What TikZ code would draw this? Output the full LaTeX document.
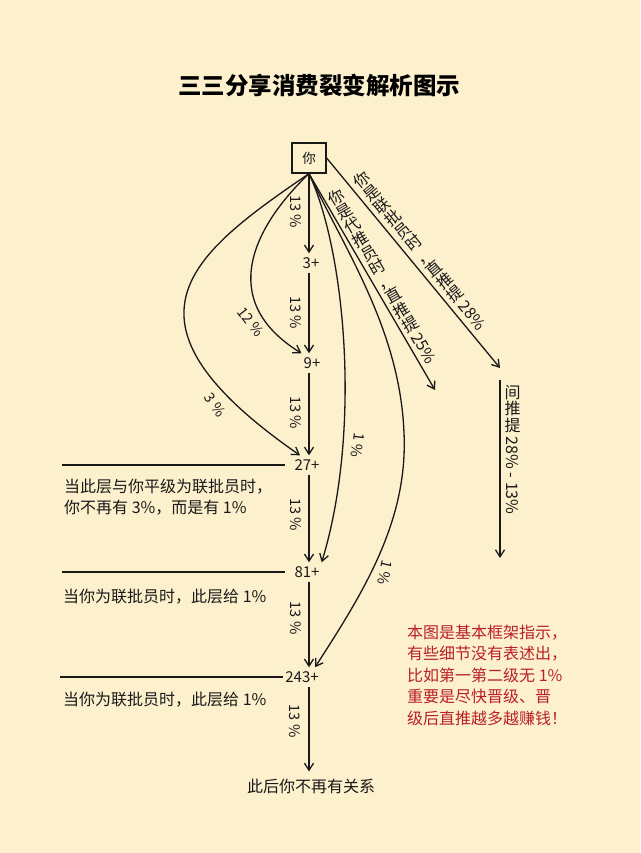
\documentclass[tikz,border=0pt]{standalone}
\usepackage{fontspec}
\usepackage{graphicx}
\setmainfont{Noto Sans CJK SC}
\usetikzlibrary{arrows.meta}
\definecolor{bgc}{RGB}{253,240,205}
\definecolor{ink}{RGB}{25,25,25}
\definecolor{redtxt}{RGB}{185,32,38}
\newcommand\vchars[1]{\vcloop#1\relax}
\def\vcloop#1{\ifx\relax#1\else\makebox[1.02em][c]{\rotatebox[origin=c]{90}{\rule[-0.12em]{0pt}{1em}\makebox[1em][c]{#1}}}\expandafter\vcloop\fi}
\begin{document}
\begin{tikzpicture}[x=1pt,y=-1pt,
  arr/.style={draw=ink, line width=1.3pt, -{Straight Barb[length=7pt,width=9pt]}},
  rule/.style={draw=ink, line width=1.3pt},
  num/.style={font=\fontsize{15}{18}\selectfont, text=ink, inner xsep=2pt, inner ysep=4pt},
  pct/.style={font=\fontsize{14.5}{16}\selectfont, text=ink, inner sep=1pt},
  note/.style={font=\fontsize{16}{21}\selectfont, text=ink, align=left, anchor=west, inner sep=0pt},
  vlab/.style={font=\fontsize{16}{18}\selectfont, text=ink, inner sep=2pt}]
\fill[bgc] (0,0) rectangle (640,853);
\useasboundingbox (0,0) rectangle (640,853);

% title
\node[font=\fontsize{23.5}{28}\selectfont\bfseries, text=black] (title) at (319,85) {三三分享消费裂变解析图示};

% top box
\node[draw=ink, line width=1.3pt, minimum width=34pt, minimum height=30pt, inner sep=0pt,
      font=\fontsize{13.5}{15}\selectfont, text=ink] (you) at (309,158) {你};

% chain nodes
\node[num] (n3) at (311,263) {3+};
\node[num] (n9) at (312,363) {9+};
\node[num] (n27) at (307,465) {27+};
\node[num] (n81) at (307,572) {81+};
\node[num] (n243) at (302,677) {243+};
\node[font=\fontsize{16}{18}\selectfont, text=ink, inner sep=0pt] (fin) at (311,786) {此后你不再有关系};

% vertical chain arrows
\draw[arr] (you.south) -- (you.south |- n3.north);
\draw[arr] (you.south |- n3.south) -- (you.south |- n9.north);
\draw[arr] (you.south |- n9.south) -- (you.south |- n27.north);
\draw[arr] (you.south |- n27.south) -- (you.south |- n81.north);
\draw[arr] (you.south |- n81.south) -- (you.south |- n243.north);
\draw[arr, shorten >=7pt] (you.south |- n243.south) -- (you.south |- fin.north);

\node[pct, rotate=-90] (p1) at (296,212) {13 \%};
\node[pct, rotate=-90] (p2) at (296,313) {13 \%};
\node[pct, rotate=-90] (p3) at (296,413) {13 \%};
\node[pct, rotate=-90] (p4) at (296,515) {13 \%};
\node[pct, rotate=-90] (p5) at (296,618) {13 \%};
\node[pct, rotate=-90] (p6) at (295,721) {13 \%};

% left curves
\draw[arr] (you.south) .. controls (190,255) and (105,320) .. ([xshift=-7pt]n27.north);
\draw[arr] (you.south) .. controls (255,225) and (215,300) .. (n9.north west);
\node[pct, rotate=-52] (p12) at (251,322) {12 \%};
\node[pct, rotate=-55] (p3b) at (215,405) {3 \%};

% right curves
\draw[arr] (you.south) .. controls (345,250) and (362,430) .. (n81.north east);
\draw[arr] (you.south) .. controls (345,250) and (400,330) .. (404,433)
                     .. controls (408,520) and (365,590) .. ([xshift=13pt]n243.north);
\node[pct, rotate=-97] (q1) at (358,445) {1 \%};
\node[pct, rotate=-103] (q2) at (385,573) {1 \%};

% straight arrows with vertical text
\coordinate (c25) at (435,390);
\coordinate (c28) at (500,368);
\draw[arr] (you.south) -- (c25)
  node[vlab, pos=0.5, sloped, above=1pt] (l25) {\vchars{你是代推员时，直推提} 25\%};
\draw[arr] (you.east) -- (c28)
  node[vlab, pos=0.48, sloped, above=2pt] (l28) {\vchars{你是联批员时，直推提} 28\%};

\coordinate (j1) at (500,380);
\coordinate (j2) at (500,558);
\draw[arr] (j1) -- (j2)
  node[vlab, pos=0.39, sloped, above=2pt] (ljt) {\vchars{间推提} 28\% - 13\%};

% horizontal rules
\coordinate (r27) at (62,465);
\coordinate (r81) at (62,572);
\coordinate (r243) at (60,677);
\draw[rule, shorten >=7pt] (r27) -- (n27.west);
\draw[rule, shorten >=7pt] (r81) -- (n81.west);
\draw[rule] (r243) -- (n243.west);

% notes
\node[note] (t1) at (64,497.5) {当此层与你平级为联批员时，\\你不再有 3\%，而是有 1\%};
\node[note] (t2) at (63,597) {当你为联批员时，此层给 1\%};
\node[note] (t3) at (63,700) {当你为联批员时，此层给 1\%};

% red note
\node[note, text=redtxt, align=left, font=\fontsize{16}{21.5}\selectfont] (red) at (407,675)
  {本图是基本框架指示，\\有些细节没有表述出，\\比如第一第二级无 1\%\\重要是尽快晋级、晋\\级后直推越多越赚钱！};
\end{tikzpicture}
\end{document}
